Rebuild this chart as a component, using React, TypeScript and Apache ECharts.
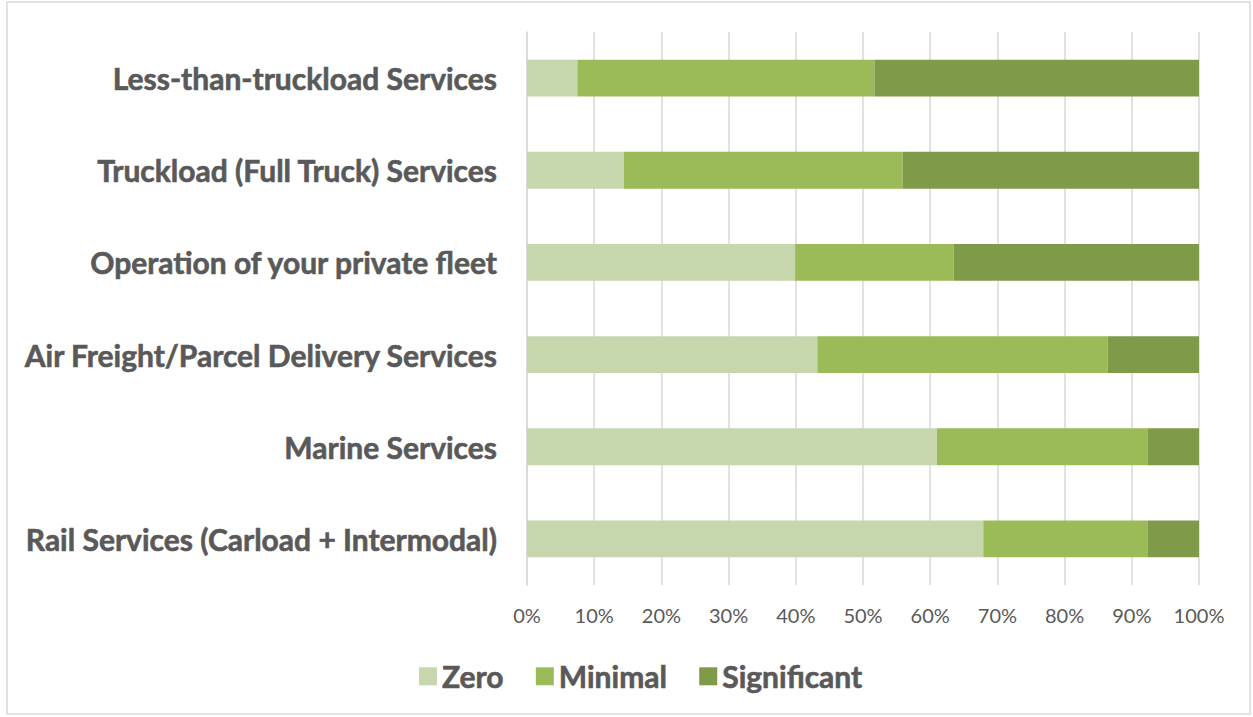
import React, { useEffect, useRef } from "react";
import * as echarts from "echarts";

const categories = [
  "Less-than-truckload Services",
  "Truckload (Full Truck) Services",
  "Operation of your private fleet",
  "Air Freight/Parcel Delivery Services",
  "Marine Services",
  "Rail Services (Carload + Intermodal)",
];
const zeroValues = [7.5, 14.4, 39.9, 43.2, 61.0, 67.9];
const minimalValues = [44.2, 41.5, 23.6, 43.2, 31.4, 24.5];
const significantValues = [48.3, 44.1, 36.5, 13.6, 7.6, 7.6];
const seriesNames = ["Zero", "Minimal", "Significant"];
const colors = ["#C6D6AD", "#9BBB59", "#7F9A48"];

export default function App() {
  const ref = useRef<HTMLDivElement>(null);
  useEffect(() => {
    if (!ref.current) return;
    const chart = echarts.init(ref.current, undefined, { renderer: "svg" });
    const data = [zeroValues, minimalValues, significantValues];
    chart.setOption({
      animation: false,
      textStyle: { fontFamily: "Lato" },
      graphic: [
        {
          type: "rect",
          shape: { x: 7, y: 2, width: 1243, height: 712 },
          style: { fill: "none", stroke: "#d9d9d9", lineWidth: 1.5 },
          silent: true,
        },
      ],
      grid: { left: 527, right: 54, top: 32, bottom: 132, containLabel: false },
      legend: {
        top: 656,
        left: 414,
        itemWidth: 18,
        itemHeight: 18,
        itemGap: 32,
        icon: "rect",
        textStyle: {
          fontSize: 30,
          fontWeight: "bold",
          color: "#595959",
          fontFamily: "Lato",
          textBorderColor: "#595959",
          textBorderWidth: 0.6,
        },
        data: seriesNames,
      },
      xAxis: {
        type: "value",
        min: 0,
        max: 100,
        interval: 10,
        axisLabel: { formatter: "{value}%", fontSize: 20, color: "#595959", margin: 20, fontFamily: "Lato" },
        axisLine: { show: false },
        axisTick: { show: false },
        splitLine: { show: true, lineStyle: { color: "#d9d9d9", width: 1.5 } },
      },
      yAxis: {
        type: "category",
        inverse: true,
        data: categories,
        axisLine: { show: true, lineStyle: { color: "#d9d9d9", width: 1.5 } },
        axisTick: { show: false },
        axisLabel: {
          fontSize: 30,
          fontWeight: "bold",
          color: "#595959",
          margin: 30,
          fontFamily: "Lato",
          textBorderColor: "#595959",
          textBorderWidth: 0.6,
        },
      },
      series: seriesNames.map((name, i) => ({
        name,
        type: "bar",
        stack: "total",
        barCategoryGap: "60%",
        itemStyle: { color: colors[i] },
        data: data[i],
      })),
    });
    return () => chart.dispose();
  }, []);
  return (
    <div
      ref={ref}
      style={{ position: "fixed", left: 0, top: 0, width: 1253, height: 717, background: "#fff" }}
    />
  );
}
